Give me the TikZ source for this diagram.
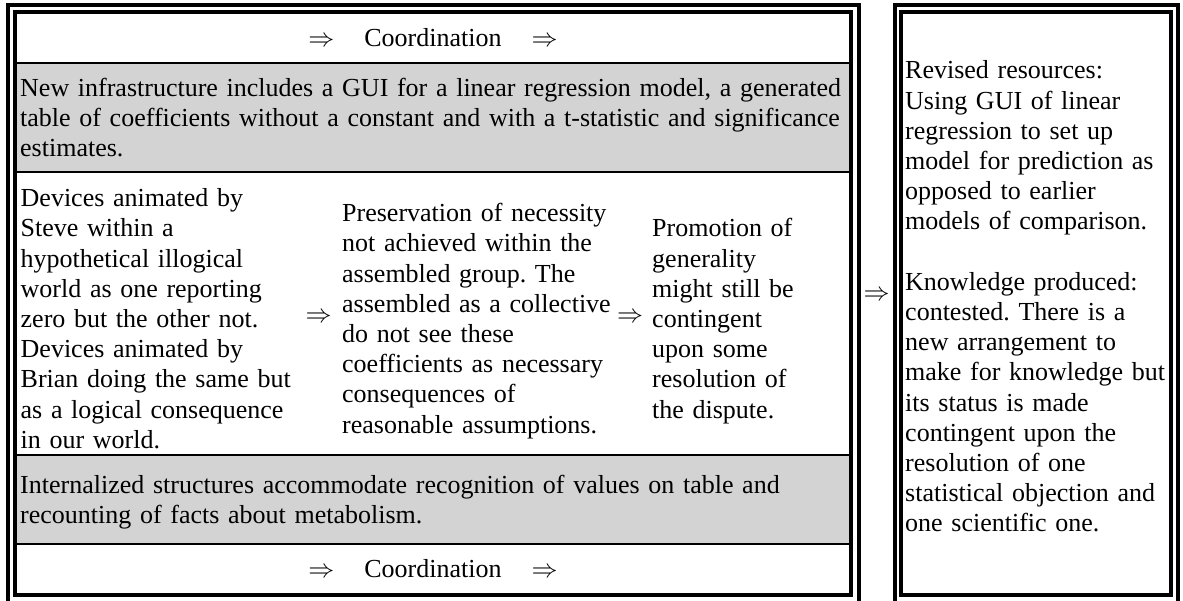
\RequirePackage{fix-cm}
\documentclass[tikz,border=0pt]{standalone}
\usepackage{fontspec}
\setmainfont{Liberation Serif}
\frenchspacing
\definecolor{rowgray}{RGB}{211,211,211}
\begin{document}
\begin{tikzpicture}[x=1pt,y=-1pt,
  frame/.style={draw=black,line width=4pt},
  rule/.style={draw=black,line width=2pt},
  band/.style={fill=rowgray},
  txt/.style={anchor=base west,inner sep=0pt,align=left,text width=#1,
    font=\fontsize{26}{30.2}\selectfont},
  arr/.style={inner sep=0pt,font=\fontsize{26}{30.2}\selectfont},
]
\useasboundingbox (0,0) rectangle (1183,601);
\fill[white] (0,0) rectangle (1183,601);

% shaded rows of the left table
\fill[band] (17,64) rectangle (849,171);
\fill[band] (17,456) rectangle (849,542.5);

% rules between the rows
\draw[rule] (17,63) -- (849,63);
\draw[rule] (17,172.5) -- (849,172.5);
\draw[rule] (17,455) -- (849,455);
\draw[rule] (17,543.5) -- (849,543.5);

% double frames
\draw[frame] (8,5) rectangle (858.5,620);
\draw[frame] (15,12) rectangle (851,595);
\draw[frame] (894.5,5) rectangle (1177.5,620);
\draw[frame] (901,12) rectangle (1171,595);

% left table contents
\node[arr] (coordTop) at (433,38)
  {$\Rightarrow$\hspace{30pt}Coordination\hspace{30pt}$\Rightarrow$};
\node[txt=1000pt] (infra) at (20,96.1)
  {New infrastructure includes a GUI for a linear regression model, a generated\\
   table of coefficients without a constant and with a t-statistic and significance\\
   estimates.};
\node[txt=400pt] (devices) at (20.5,206.7)
  {Devices animated by\\ Steve within a\\ hypothetical illogical\\ world as one reporting\\
   zero but the other not.\\ Devices animated by\\ Brian doing the same but\\
   as a logical consequence\\ in our world.};
\node[arr] (arrowA) at (318.5,318) {$\Rightarrow$};
\node[txt=400pt] (preserve) at (342,221.8)
  {Preservation of necessity\\ not achieved within the\\ assembled group. The\\
   assembled as a collective\\ do not see these\\ coefficients as necessary\\
   consequences of\\ reasonable assumptions.};
\node[arr] (arrowB) at (630,318) {$\Rightarrow$};
\node[txt=300pt] (promote) at (652,236.9)
  {Promotion of\\ generality\\ might still be\\ contingent\\ upon some\\
   resolution of\\ the dispute.};
\node[txt=1000pt] (internal) at (20,493.2)
  {Internalized structures accommodate recognition of values on table and\\
   recounting of facts about metabolism.};
\node[arr] (coordBot) at (433,568.75)
  {$\Rightarrow$\hspace{30pt}Coordination\hspace{30pt}$\Rightarrow$};

% link between the two tables
\node[arr] (arrowMid) at (876.5,296) {$\Rightarrow$};

% right table contents
\node[txt=400pt] (revised) at (905,79)
  {Revised resources:\\ Using GUI of linear\\ regression to set up\\
   model for prediction as\\ opposed to earlier\\ models of comparison.\\[30.2pt]
   Knowledge produced:\\ contested. There is a\\ new arrangement to\\
   make for knowledge but\\ its status is made\\ contingent upon the\\
   resolution of one\\ statistical objection and\\ one scientific one.};
\end{tikzpicture}
\end{document}
